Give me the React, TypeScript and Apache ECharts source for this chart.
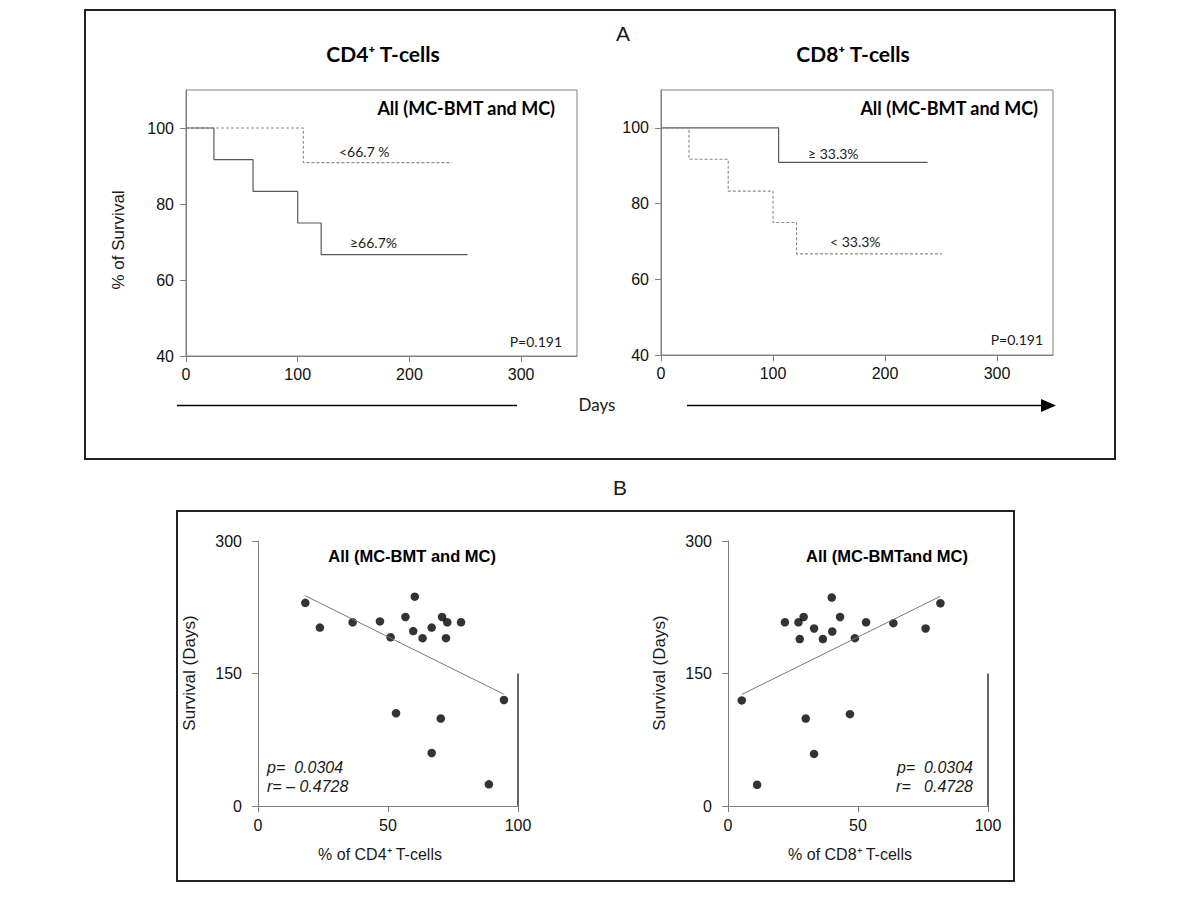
import React, { useEffect, useRef } from "react";
import * as echarts from "echarts";

// ---- Kaplan-Meier data (panel A) ----
const cd4HighDays = [0, 25, 60, 100, 121, 252];
const cd4HighSurv = [100, 91.7, 83.3, 75, 66.7, 66.7];
const cd4LowDays = [0, 105, 238];
const cd4LowSurv = [100, 90.9, 90.9];
const cd8HighDays = [0, 105, 238];
const cd8HighSurv = [100, 90.9, 90.9];
const cd8LowDays = [0, 25, 60, 100, 121, 251];
const cd8LowSurv = [100, 91.7, 83.3, 75, 66.7, 66.7];

const kmXTicks = [0, 100, 200, 300];
const kmYTicks = [40, 60, 80, 100];

// ---- Scatter data (panel B) ----
const cd4Pct = [18.2, 23.8, 36.4, 46.9, 51.0, 53.1, 56.7, 60.3, 59.7, 63.3, 66.8, 66.8, 70.3, 70.8, 72.8, 72.3, 78.1, 88.8, 94.6];
const cd4Surv = [230, 202, 208, 209, 191, 105, 214, 237, 198, 190, 202, 60, 99, 214, 208, 190, 208, 24.5, 120];
const cd8Pct = [5.3, 11.2, 21.9, 27.1, 27.6, 29.1, 29.9, 33.1, 33.1, 36.5, 39.9, 40.1, 43.1, 46.9, 48.8, 53.1, 63.6, 76, 81.7];
const cd8Surv = [119.5, 24, 208, 208, 189, 214, 99, 201, 59, 189, 236, 197.5, 214, 104, 190, 208, 207, 201, 229.5];

const cd4FitX = [18.2, 94.5];
const cd4FitY = [238, 126.6];
const cd8FitX = [5.3, 81.7];
const cd8FitY = [126.3, 237.4];

const scXTicks = [0, 50, 100];
const scYTicks = [0, 150, 300];
const edgeX = [100, 100];
const edgeY = [0, 150];

const zip = (a: number[], b: number[]) => a.map((v, i) => [v, b[i]]);

const ARIAL = "Liberation Sans";
const CALIBRI = "Lato";
const AXIS_GRAY = "#808080";

function axisCfg(grid: number, min: number, max: number, ticks: number[], margin: number) {
  return {
    type: "value",
    gridIndex: grid,
    min,
    max,
    axisLine: { show: true, onZero: false, lineStyle: { color: AXIS_GRAY, width: 1 } },
    axisTick: { show: true, length: 6, customValues: ticks, lineStyle: { color: AXIS_GRAY } },
    axisLabel: { customValues: ticks, fontSize: 16, fontFamily: ARIAL, color: "#111", margin },
    splitLine: { show: false },
  };
}

function txt(x: number, y: number, text: string, opts: any = {}) {
  return {
    type: "text",
    x,
    y,
    rotation: opts.rotation || 0,
    style: {
      text,
      fill: opts.color || "#1a1a1a",
      fontSize: opts.size || 14,
      fontFamily: opts.family || ARIAL,
      fontWeight: opts.weight || "normal",
      fontStyle: opts.style || "normal",
      align: opts.align || "left",
      verticalAlign: "middle",
    },
  };
}

const NB = "\u00a0";

export default function App() {
  const ref = useRef<HTMLDivElement>(null);
  useEffect(() => {
    if (!ref.current) return;
    const chart = echarts.init(ref.current, null, { renderer: "svg" });
    const solid = { color: "#5a5a5a", width: 1.2, type: "solid" };
    const dashed = { color: "#8a8a8a", width: 1.1, type: [3, 2] };
    const option: any = {
      animation: false,
      backgroundColor: "#fff",
      grid: [
        { left: 186, top: 90, width: 391, height: 266, show: true, borderColor: AXIS_GRAY, borderWidth: 1, backgroundColor: "transparent" },
        { left: 661, top: 90, width: 392, height: 265, show: true, borderColor: AXIS_GRAY, borderWidth: 1, backgroundColor: "transparent" },
        { left: 258, top: 541, width: 260, height: 265 },
        { left: 728, top: 541, width: 260, height: 265 },
      ],
      xAxis: [
        axisCfg(0, 0, 350, kmXTicks, 10),
        axisCfg(1, 0, 350, kmXTicks, 10),
        axisCfg(2, 0, 100, scXTicks, 11),
        axisCfg(3, 0, 100, scXTicks, 11),
      ],
      yAxis: [
        axisCfg(0, 40, 110, kmYTicks, 12),
        axisCfg(1, 40, 110, kmYTicks, 12),
        axisCfg(2, 0, 300, scYTicks, 16),
        axisCfg(3, 0, 300, scYTicks, 16),
      ],
      series: [
        { type: "line", xAxisIndex: 0, yAxisIndex: 0, step: "end", symbol: "none", data: zip(cd4LowDays, cd4LowSurv), lineStyle: dashed },
        { type: "line", xAxisIndex: 0, yAxisIndex: 0, step: "end", symbol: "none", data: zip(cd4HighDays, cd4HighSurv), lineStyle: solid },
        { type: "line", xAxisIndex: 1, yAxisIndex: 1, step: "end", symbol: "none", data: zip(cd8HighDays, cd8HighSurv), lineStyle: solid },
        { type: "line", xAxisIndex: 1, yAxisIndex: 1, step: "end", symbol: "none", data: zip(cd8LowDays, cd8LowSurv), lineStyle: dashed },
        { type: "line", xAxisIndex: 2, yAxisIndex: 2, symbol: "none", data: zip(cd4FitX, cd4FitY), lineStyle: { color: "#777", width: 1 } },
        { type: "line", xAxisIndex: 3, yAxisIndex: 3, symbol: "none", data: zip(cd8FitX, cd8FitY), lineStyle: { color: "#777", width: 1 } },
        { type: "line", xAxisIndex: 2, yAxisIndex: 2, symbol: "none", data: zip(edgeX, edgeY), lineStyle: { color: "#333", width: 1.5 } },
        { type: "line", xAxisIndex: 3, yAxisIndex: 3, symbol: "none", data: zip(edgeX, edgeY), lineStyle: { color: "#333", width: 1.5 } },
        { type: "scatter", xAxisIndex: 2, yAxisIndex: 2, symbolSize: 8.5, data: zip(cd4Pct, cd4Surv), itemStyle: { color: "#000" } },
        { type: "scatter", xAxisIndex: 3, yAxisIndex: 3, symbolSize: 8.5, data: zip(cd8Pct, cd8Surv), itemStyle: { color: "#000" } },
      ],
      graphic: [
        { type: "rect", shape: { x: 85, y: 10, width: 1030, height: 449 }, style: { fill: "none", stroke: "#222", lineWidth: 2 } },
        { type: "rect", shape: { x: 177, y: 511, width: 837, height: 370 }, style: { fill: "none", stroke: "#222", lineWidth: 2 } },
        txt(616, 33, "A", { size: 21 }),
        txt(613, 487, "B", { size: 21 }),
        txt(383, 53, "CD4\u207A T-cells", { size: 21, weight: "bold", family: CALIBRI, align: "center", color: "#000" }),
        txt(853, 53, "CD8\u207A T-cells", { size: 21, weight: "bold", family: CALIBRI, align: "center", color: "#000" }),
        txt(555, 108, "All (MC-BMT and MC)", { size: 18, weight: "bold", family: CALIBRI, align: "right", color: "#000" }),
        txt(1038, 108, "All (MC-BMT and MC)", { size: 18, weight: "bold", family: CALIBRI, align: "right", color: "#000" }),
        txt(339, 151, "<66.7 %", { size: 14, family: CALIBRI }),
        txt(350, 242, "\u226566.7%", { size: 14, family: CALIBRI }),
        txt(562, 341, "P=0.191", { size: 14, family: CALIBRI, align: "right" }),
        txt(808, 153, "\u2265 33.3%", { size: 14, family: CALIBRI }),
        txt(830, 241, "< 33.3%", { size: 14, family: CALIBRI }),
        txt(1043, 339, "P=0.191", { size: 14, family: CALIBRI, align: "right" }),
        txt(118, 240, "% of Survival", { size: 17, align: "center", rotation: Math.PI / 2 }),
        txt(597, 404, "Days", { size: 17, family: CALIBRI, align: "center" }),
        { type: "line", shape: { x1: 177, y1: 405.5, x2: 517, y2: 405.5 }, style: { stroke: "#000", lineWidth: 1.5 } },
        { type: "line", shape: { x1: 687, y1: 405.5, x2: 1042, y2: 405.5 }, style: { stroke: "#000", lineWidth: 1.5 } },
        { type: "polygon", shape: { points: [[1041, 399], [1056, 405.5], [1041, 412]] }, style: { fill: "#000" } },
        txt(496, 556, "All (MC-BMT and MC)", { size: 16.5, weight: "bold", align: "right", color: "#000" }),
        txt(968, 556, "All (MC-BMTand MC)", { size: 16.5, weight: "bold", align: "right", color: "#000" }),
        txt(267, 767, "p=" + NB + NB + "0.0304", { size: 16, style: "italic" }),
        txt(267, 786, "r=" + NB + "\u2013" + NB + "0.4728", { size: 16, style: "italic" }),
        txt(973, 767, "p=" + NB + NB + "0.0304", { size: 16, style: "italic", align: "right" }),
        txt(973, 786, "r=" + NB + NB + NB + "0.4728", { size: 16, style: "italic", align: "right" }),
        txt(189, 673, "Survival (Days)", { size: 17, align: "center", rotation: Math.PI / 2 }),
        txt(659, 673, "Survival (Days)", { size: 17, align: "center", rotation: Math.PI / 2 }),
        txt(380, 854, "% of CD4\u207A T-cells", { size: 16, align: "center" }),
        txt(850, 854, "% of CD8\u207A T-cells", { size: 16, align: "center" }),
      ],
    };
    chart.setOption(option);
    return () => chart.dispose();
  }, []);
  return (
    <div
      ref={ref}
      style={{ position: "fixed", left: 0, top: 0, width: 1200, height: 900, background: "#fff" }}
    />
  );
}
